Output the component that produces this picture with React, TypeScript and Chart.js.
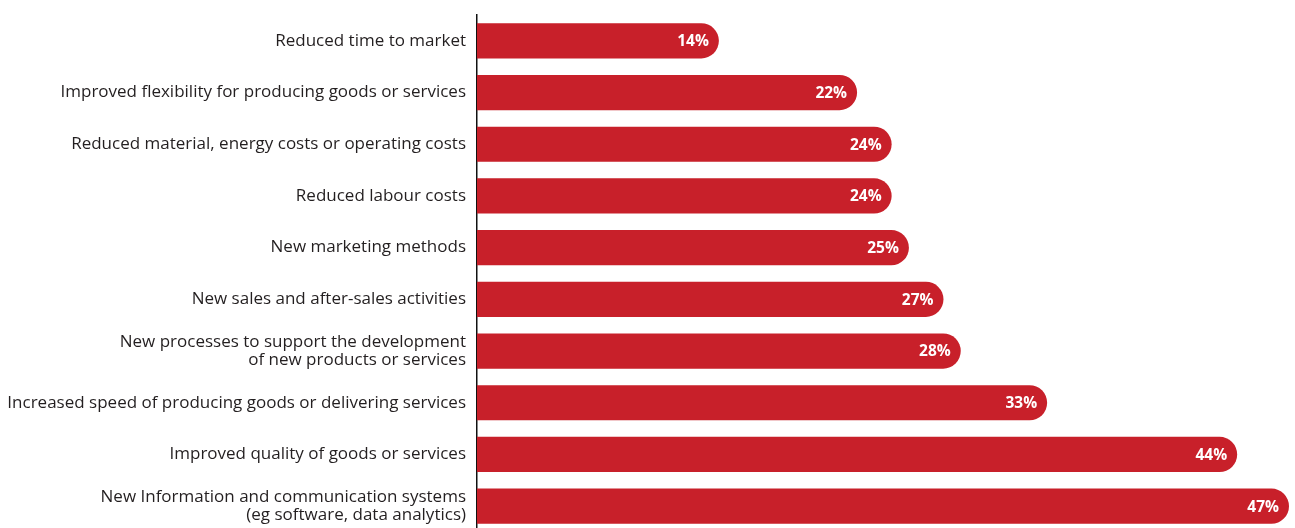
import React, { useEffect, useRef } from "react";
import { Chart, registerables } from "chart.js";

Chart.register(...registerables);

const categories: (string | string[])[] = [
  "Reduced time to market",
  "Improved flexibility for producing goods or services",
  "Reduced material, energy costs or operating costs",
  "Reduced labour costs",
  "New marketing methods",
  "New sales and after-sales activities",
  ["New processes to support the development", "of new products or services"],
  "Increased speed of producing goods or delivering services",
  "Improved quality of goods or services",
  ["New Information and communication systems", "(eg software, data analytics)"],
];

const values: number[] = [14, 22, 24, 24, 25, 27, 28, 33, 44, 47];

const BAR_COLOR = "#c8202a";
const FONT = "'Open Sans', Lato, sans-serif";

const valueLabelPlugin = {
  id: "valueLabels",
  afterDatasetsDraw(chart: any) {
    const ctx = chart.ctx;
    const meta = chart.getDatasetMeta(0);
    ctx.save();
    ctx.fillStyle = "#ffffff";
    ctx.font = `bold 15.5px ${FONT}`;
    ctx.textAlign = "right";
    ctx.textBaseline = "middle";
    meta.data.forEach((bar: any, i: number) => {
      ctx.fillText(values[i] + "%", bar.x - 10, bar.y + 1);
    });
    ctx.restore();
  },
};

export default function App() {
  const ref = useRef<HTMLCanvasElement | null>(null);
  useEffect(() => {
    if (!ref.current) return;
    const chart = new Chart(ref.current, {
      type: "bar",
      data: {
        labels: categories as any,
        datasets: [
          {
            data: values,
            backgroundColor: BAR_COLOR,
            borderSkipped: "start",
            borderRadius: { topLeft: 0, bottomLeft: 0, topRight: 18, bottomRight: 18 },
            barPercentage: 0.68,
            categoryPercentage: 1,
          },
        ],
      },
      options: {
        indexAxis: "y",
        animation: false,
        responsive: true,
        maintainAspectRatio: false,
        layout: { padding: { top: 15, right: 6, bottom: 8, left: 0 } },
        plugins: { legend: { display: false }, tooltip: { enabled: false } },
        scales: {
          x: {
            display: false,
            min: 0,
            max: 47,
          },
          y: {
            grid: { display: false, drawTicks: false },
            border: { display: true, color: "#111111", width: 1.5 },
            ticks: {
              color: "#231f20",
              font: { family: FONT, size: 17, lineHeight: 1.06 },
              padding: 11,
            },
            afterFit: (scale: any) => {
              scale.width = 477;
              scale.paddingTop = 0;
              scale.paddingBottom = 0;
            },
          },
        },
      },
      plugins: [valueLabelPlugin],
    });
    return () => chart.destroy();
  }, []);
  return (
    <div style={{ position: "fixed", left: 0, top: 0, width: 1295, height: 540 }}>
      <canvas ref={ref} />
    </div>
  );
}
